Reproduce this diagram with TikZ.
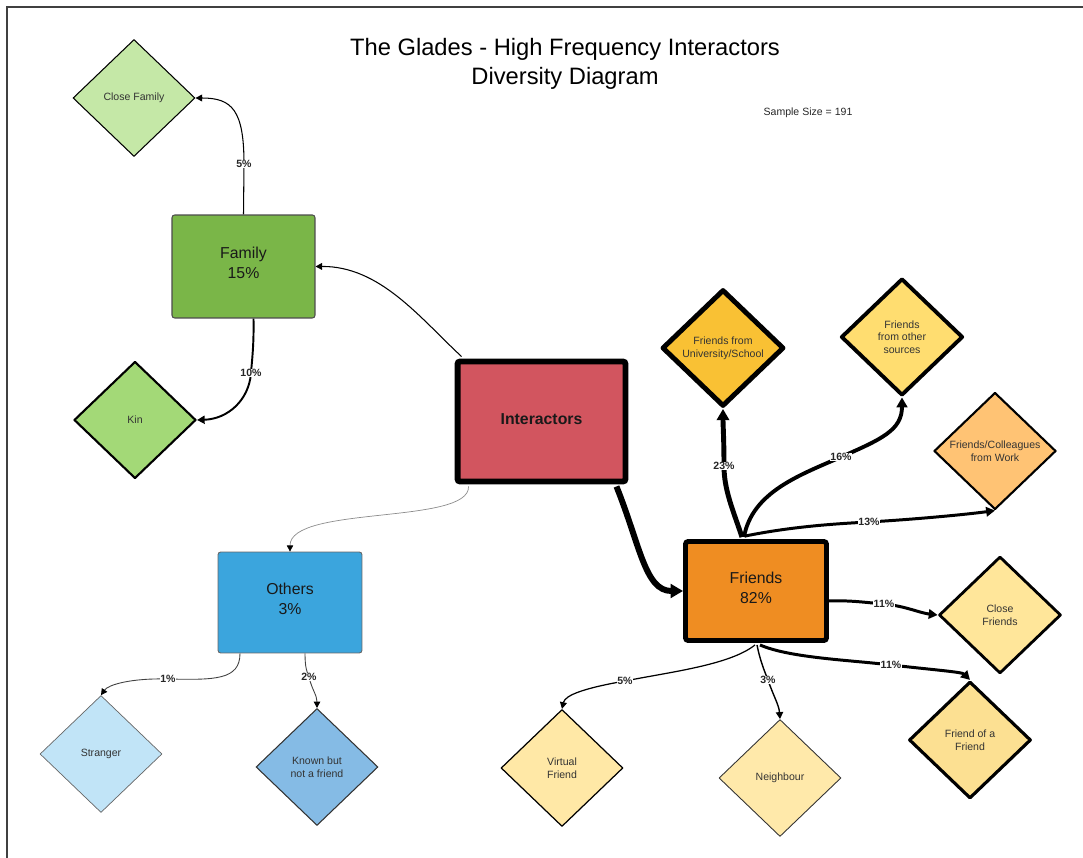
\documentclass[tikz,border=0pt]{standalone}
\usepackage{fontspec}
\setmainfont{Liberation Sans}
\usetikzlibrary{shapes.geometric,arrows.meta,calc}
\definecolor{cfam}{HTML}{C5E8A7}
\definecolor{famg}{HTML}{7AB648}
\definecolor{kin}{HTML}{A3D977}
\definecolor{inter}{HTML}{D2555F}
\definecolor{oth}{HTML}{3BA5DD}
\definecolor{strg}{HTML}{C1E4F7}
\definecolor{known}{HTML}{85BBE5}
\definecolor{frnd}{HTML}{EF8D22}
\definecolor{uni}{HTML}{F9C134}
\definecolor{osrc}{HTML}{FFDD70}
\definecolor{work}{HTML}{FFC374}
\definecolor{clfr}{HTML}{FFE69A}
\definecolor{foaf}{HTML}{FCE092}
\definecolor{virt}{HTML}{FFE8A6}
\definecolor{neigh}{HTML}{FFE9AA}
\tikzset{
  diam/.style={shape=diamond, draw=black, inner sep=0pt, minimum width=2.44cm, minimum height=2.34cm,
    align=center, text=black!80, font=\fontsize{6}{7.2}\selectfont, line join=round},
  boxn/.style={draw, rounded corners=1.5pt, align=center, inner sep=0pt, text=black!90,
    font=\fontsize{9}{11.3}\selectfont},
  lbl/.style={fill=white, inner sep=0.4pt, font=\bfseries\fontsize{6}{7}\selectfont, text=black!85},
  conn/.style={draw=black, -{Triangle[length=3pt 1.2, width=3pt 1.4, black]}},
}
\begin{document}
\begin{tikzpicture}[x=0.02cm,y=-0.02cm]
\useasboundingbox (0,0) rectangle (1083,858);
\draw[line width=0.8pt, black!75] (7,858) -- (7,7) -- (1083,7);

% title
\node[font=\fontsize{13.5}{16.4}\selectfont, align=center] (title) at (565,64)
  {The Glades - High Frequency Interactors\\Diversity Diagram};
\node[font=\fontsize{6}{7}\selectfont, text=black!85] (sample) at (808,113) {Sample Size = 191};

% boxes
\node[boxn, fill=famg, draw=black!70, line width=0.6pt, minimum width=2.86cm, minimum height=2.06cm] (family) at (243.5,266.5) {Family\\15\%\rule[-4pt]{0pt}{4pt}};
\node[boxn, fill=inter, line width=3.4pt, minimum width=3.36cm, minimum height=2.40cm, font=\bfseries\fontsize{9}{11}\selectfont] (inter) at (541.5,421.5) {Interactors\rule[-3pt]{0pt}{3pt}};
\node[boxn, fill=oth, draw=black!60, line width=0.5pt, minimum width=2.88cm, minimum height=2.02cm] (others) at (290,602.5) {Others\\3\%\rule[-4pt]{0pt}{4pt}};
\node[boxn, fill=frnd, line width=2.8pt, minimum width=2.82cm, minimum height=1.98cm] (friends) at (756,591) {Friends\\82\%\rule[-4pt]{0pt}{4pt}};

% diamonds
\node[diam, fill=cfam, line width=0.6pt] (cfam) at (134,98) {Close Family};
\node[diam, fill=kin, line width=1.2pt] (kin) at (135,420) {Kin};
\node[diam, fill=strg, draw=black!60, line width=0.4pt] (strg) at (101,754) {Stranger};
\node[diam, fill=known, draw=black!80, line width=0.6pt] (known) at (317,767) {Known but\\not a friend};
\node[diam, fill=uni, line width=2.8pt] (uni) at (723,348) {Friends from\\University/School};
\node[diam, fill=osrc, line width=2.2pt] (osrc) at (902,337) {Friends\\from other\\sources};
\node[diam, fill=work, line width=1.2pt] (work) at (995,451) {Friends/Colleagues\\from Work};
\node[diam, fill=clfr, line width=1.6pt] (clfr) at (1000,615) {Close\\Friends};
\node[diam, fill=foaf, line width=1.8pt] (foaf) at (970,740) {Friend of a\\Friend};
\node[diam, fill=virt, line width=0.7pt] (virt) at (562,768) {Virtual\\Friend};
\node[diam, fill=neigh, draw=black!80, line width=0.5pt] (neigh) at (780,778) {Neighbour};

% connectors
\draw[conn, line width=0.6pt] ($(inter.north west)+(7,-2)$) .. controls (420,318) and (380,266) .. (family.east);
\draw[conn, line width=0.6pt] (family.north) -- (244,164) node[lbl] {5\%} .. controls (244,110) and (232,98) .. (cfam.east);
\draw[conn, line width=1.1pt] ($(family.south)+(10,0)$) .. controls (254,345) and (252,360) .. (251,373) node[lbl] {10\%}
   .. controls (249,400) and (228,419) .. (kin.east);
\draw[conn, line width=0.4pt, draw=black!45] ($(inter.south west)+(14,2)$) .. controls (470,525) and (290,505) .. (others.north);
\draw[conn, line width=3.4pt] ($(inter.south east)+(-12,2)$) .. controls (640,545) and (645,591) .. (friends.west);

\draw[conn, line width=0.5pt, draw=black!75] ($(others.south)+(-50,0)$) .. controls (240,680) and (215,680) .. (168,679) node[lbl] {1\%}
   .. controls (130,678) and (108,685) .. (strg.north);
\draw[conn, line width=0.5pt, draw=black!75] ($(others.south)+(15,0)$) .. controls (305,668) and (307,672) .. (309,677) node[lbl] {2\%}
   .. controls (312,690) and (317,695) .. (known.north);

\draw[conn, line width=2.8pt] ($(friends.north)+(-14,-2)$) .. controls (733,510) and (724,490) .. (724,466) node[lbl] {23\%}
   .. controls (724,440) and (723,425) .. (uni.south);
\draw[conn, line width=2.2pt] ($(friends.north)+(-12,-2)$) .. controls (752,492) and (800,475) .. (841,457) node[lbl] {16\%}
   .. controls (882,439) and (902,430) .. (osrc.south);
\draw[conn, line width=1.7pt] ($(friends.north)+(-11,-3)$) .. controls (790,527) and (830,524) .. (869,522) node[lbl] {13\%}
   .. controls (920,519) and (970,514) .. (work.south);
\draw[conn, line width=1.7pt] ($(friends.east)+(0,10)$) .. controls (850,600) and (870,603) .. (884,604) node[lbl] {11\%}
   .. controls (905,606) and (920,613) .. (clfr.west);
\draw[conn, line width=1.7pt] ($(friends.south)+(4,2)$) .. controls (790,658) and (850,660) .. (891,665) node[lbl] {11\%}
   .. controls (935,670) and (962,672) .. (foaf.north);
\draw[conn, line width=0.7pt] ($(friends.south)+(-1,2)$) .. controls (730,665) and (670,672) .. (625,681) node[lbl] {5\%}
   .. controls (585,688) and (565,695) .. (virt.north);
\draw[conn, line width=0.8pt] ($(friends.south)+(1,2)$) .. controls (760,660) and (764,670) .. (768,680) node[lbl] {3\%}
   .. controls (773,695) and (779,705) .. (neigh.north);
\end{tikzpicture}
\end{document}
